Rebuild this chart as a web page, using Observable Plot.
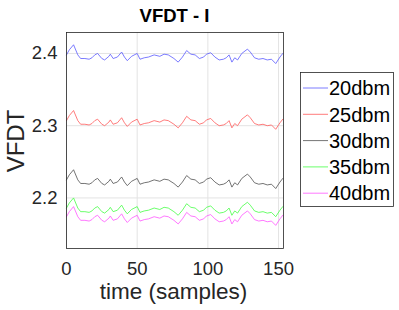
<!DOCTYPE html>
<html>
<head>
<meta charset="utf-8">
<script src="https://cdn.jsdelivr.net/npm/d3@7"></script>
<script src="https://cdn.jsdelivr.net/npm/@observablehq/plot@0.6"></script>
<style>
  body { margin: 0; background: white; }
</style>
</head>
<body>
<div id="chart"></div>
<script>
const title = "VFDT - I";
const xLabel = "time (samples)";
const yLabel = "VFDT";
const xTicks = [0, 50, 100, 150];
const yTicks = [2.2, 2.3, 2.4];
const seriesNames = ["20dbm", "25dbm", "30dbm", "35dbm", "40dbm"];
const seriesColors = ["#5a5aff", "#ff5a5a", "#505050", "#45ff45", "#ff55ff"];

const t = [0,2,5,8,10,13,16,18,20,22,25,27,30,31,33,36,39,41,43,46,50,52,55,58,62,66,69,72,76,79,82,85,88,91,94,97,99,102,105,108,111,113,115,117,119,121,124,128,130,133,136,139,142,145,148,151,153];

const s20 = [2.398,2.405,2.412,2.398,2.393,2.393,2.392,2.394,2.398,2.400,2.393,2.391,2.396,2.399,2.393,2.395,2.402,2.395,2.390,2.396,2.400,2.392,2.394,2.395,2.398,2.396,2.399,2.398,2.393,2.388,2.395,2.404,2.399,2.398,2.393,2.395,2.399,2.401,2.395,2.391,2.392,2.394,2.398,2.388,2.394,2.391,2.400,2.406,2.402,2.394,2.392,2.393,2.391,2.392,2.386,2.395,2.400];
const s25 = [2.307,2.314,2.321,2.307,2.302,2.302,2.301,2.303,2.307,2.309,2.302,2.300,2.305,2.308,2.302,2.304,2.311,2.304,2.299,2.305,2.309,2.301,2.303,2.304,2.307,2.305,2.308,2.307,2.302,2.297,2.304,2.313,2.308,2.307,2.302,2.304,2.308,2.310,2.304,2.300,2.301,2.303,2.307,2.297,2.303,2.300,2.309,2.315,2.311,2.303,2.301,2.302,2.300,2.301,2.295,2.304,2.309];
const s30 = [2.225,2.232,2.239,2.225,2.220,2.220,2.219,2.221,2.225,2.227,2.220,2.218,2.223,2.226,2.220,2.222,2.229,2.222,2.217,2.223,2.227,2.219,2.221,2.222,2.225,2.223,2.226,2.225,2.220,2.215,2.222,2.231,2.226,2.225,2.220,2.222,2.226,2.228,2.222,2.218,2.219,2.221,2.225,2.215,2.221,2.218,2.227,2.233,2.229,2.221,2.219,2.220,2.218,2.219,2.213,2.222,2.227];
const s35 = [2.186,2.193,2.200,2.186,2.181,2.181,2.180,2.182,2.186,2.188,2.181,2.179,2.184,2.187,2.181,2.183,2.190,2.183,2.178,2.184,2.188,2.180,2.182,2.183,2.186,2.184,2.187,2.186,2.181,2.176,2.183,2.192,2.187,2.186,2.181,2.183,2.187,2.189,2.183,2.179,2.180,2.182,2.186,2.176,2.182,2.179,2.188,2.194,2.190,2.182,2.180,2.181,2.179,2.180,2.174,2.183,2.188];
const s40 = [2.174,2.181,2.188,2.174,2.169,2.169,2.168,2.170,2.174,2.176,2.169,2.167,2.172,2.175,2.169,2.171,2.178,2.171,2.166,2.172,2.176,2.168,2.170,2.171,2.174,2.172,2.175,2.174,2.169,2.164,2.171,2.180,2.175,2.174,2.169,2.171,2.175,2.177,2.171,2.167,2.168,2.170,2.174,2.164,2.170,2.167,2.176,2.182,2.178,2.170,2.168,2.169,2.167,2.168,2.162,2.171,2.176];

const allSeries = [s20, s25, s30, s35, s40];
const rows = [];
allSeries.forEach((vals, i) => {
  vals.forEach((v, j) => rows.push({x: t[j], y: v, s: seriesNames[i]}));
});

const W = 399, H = 310;
const mL = 66, mR = 116, mT = 32, mB = 62;
const font = "'Liberation Sans', Arial, Helvetica, sans-serif";

const chart = Plot.plot({
  width: W, height: H,
  marginLeft: mL, marginRight: mR, marginTop: mT, marginBottom: mB,
  style: {fontFamily: font, fontSize: "18.5px", color: "#262626", background: "white"},
  x: {domain: [0, 153.5], label: null},
  y: {domain: [2.13, 2.429], label: null},
  color: {domain: seriesNames, range: seriesColors},
  marks: [
    Plot.gridX(xTicks, {stroke: "#e3e3e3", strokeOpacity: 1}),
    Plot.gridY(yTicks, {stroke: "#e3e3e3", strokeOpacity: 1}),
    Plot.line(rows, {x: "x", y: "y", z: "s", stroke: "s", strokeWidth: 0.8}),
    Plot.frame({stroke: "#262626", strokeWidth: 0.8}),
    Plot.axisX(xTicks, {tickSize: 0, tickPadding: 13, fontSize: 18.5, label: null}),
    Plot.axisY(yTicks, {tickSize: 0, tickPadding: 9, fontSize: 18.5, tickFormat: d3.format(".1f"), label: null})
  ]
});

const svg = d3.select(chart);
const plotW = W - mL - mR;
// Title
svg.append("text").attr("x", mL + plotW / 2).attr("y", 22)
  .attr("text-anchor", "middle").attr("font-family", font)
  .attr("font-size", 18.5).attr("font-weight", "bold").attr("fill", "#000").text(title);
// X label
svg.append("text").attr("x", mL + plotW / 2 - 1).attr("y", 299)
  .attr("text-anchor", "middle").attr("font-family", font)
  .attr("font-size", 22.5).attr("fill", "#262626").text(xLabel);
// Y label
svg.append("text").attr("transform", `translate(24,${141}) rotate(-90)`)
  .attr("text-anchor", "middle").attr("font-family", font)
  .attr("font-size", 24).attr("fill", "#262626").text(yLabel);
// Legend
const lg = svg.append("g");
lg.append("rect").attr("x", 300.5).attr("y", 72.5).attr("width", 93).attr("height", 134)
  .attr("fill", "white").attr("stroke", "#262626").attr("stroke-width", 0.8);
seriesNames.forEach((n, i) => {
  const cy = 88 + i * 26.3;
  lg.append("line").attr("x1", 303).attr("x2", 328).attr("y1", cy).attr("y2", cy)
    .attr("stroke", seriesColors[i]).attr("stroke-width", 0.8);
  lg.append("text").attr("x", 329).attr("y", cy).attr("dy", "0.36em")
    .attr("text-anchor", "start")
    .attr("font-family", font).attr("font-size", 20).attr("fill", "#000").text(n);
});

document.getElementById("chart").appendChild(chart);
</script>
</body>
</html>
